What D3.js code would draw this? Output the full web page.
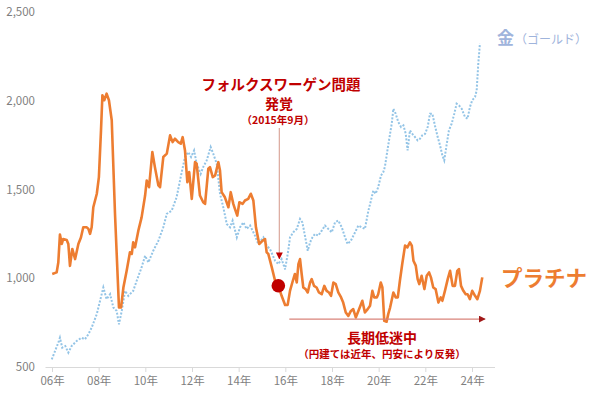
<!DOCTYPE html>
<html><head><meta charset="utf-8">
<script src="https://cdn.jsdelivr.net/npm/d3@7"></script>
<style>
html,body{margin:0;padding:0;background:#fff;}
svg{display:block;font-family:"Noto Sans CJK JP","Noto Sans",sans-serif;}
</style></head>
<body><svg id="c" width="600" height="397"></svg>
<script>
// ---- data ----
const yTicks = [500, 1000, 1500, 2000, 2500];
const xTicks = [2006, 2008, 2010, 2012, 2014, 2016, 2018, 2020, 2022, 2024];

const platYears = [2006.01,2006.20,2006.27,2006.34,2006.42,2006.48,2006.63,2006.70,2006.77,2006.87,2006.99,
2007.13,2007.24,2007.34,2007.49,2007.56,2007.63,2007.70,2007.77,2007.92,
2008.01,2008.10,2008.16,2008.24,2008.34,2008.44,2008.56,2008.70,2008.87,2008.96,
2009.06,2009.20,2009.34,2009.42,2009.48,2009.56,2009.70,2009.84,2009.99,
2010.06,2010.16,2010.30,2010.41,2010.56,2010.63,2010.77,2010.92,
2011.06,2011.17,2011.27,2011.41,2011.52,2011.60,2011.70,2011.80,2011.88,2011.99,
2012.13,2012.20,2012.34,2012.48,2012.56,2012.70,2012.77,2012.89,2012.99,
2013.13,2013.20,2013.27,2013.41,2013.56,2013.66,2013.77,2013.84,2013.94,
2014.03,2014.17,2014.27,2014.41,2014.52,2014.63,2014.74,2014.88,
2015.03,2015.13,2015.20,2015.27,2015.42,2015.56,2015.70,2015.84,2015.99,
2016.10,2016.20,2016.30,2016.41,2016.49,2016.56,2016.63,2016.70,2016.77,2016.87,2016.96,
2017.06,2017.13,2017.23,2017.34,2017.44,2017.56,2017.67,2017.77,2017.87,2017.96,
2018.06,2018.16,2018.27,2018.39,2018.48,2018.59,2018.70,2018.81,2018.91,
2019.02,2019.13,2019.30,2019.41,2019.53,2019.63,2019.73,2019.81,2019.92,2019.98,
2020.09,2020.16,2020.24,2020.34,2020.41,2020.49,2020.63,2020.73,2020.82,2020.91,
2021.01,2021.13,2021.23,2021.34,2021.42,2021.49,2021.59,2021.67,2021.74,2021.84,2021.96,
2022.06,2022.16,2022.24,2022.34,2022.44,2022.56,2022.66,2022.73,2022.84,2022.96,
2023.06,2023.17,2023.27,2023.37,2023.44,2023.53,2023.63,2023.73,2023.81,2023.91,
2024.01,2024.13,2024.23,2024.34,2024.44];
const platValues = [1024,1033,1089,1246,1193,1221,1216,1193,1070,1165,1108,
1193,1230,1287,1287,1278,1250,1287,1400,1476,
1570,1833,2031,2003,2040,2003,1890,1363,835,835,
948,1042,1146,1137,1202,1174,1268,1343,1466,
1551,1513,1711,1626,1523,1513,1683,1702,
1805,1767,1786,1767,1758,1795,1720,1541,1598,1447,
1654,1645,1466,1428,1419,1617,1626,1570,1579,
1654,1607,1485,1456,1400,1485,1419,1391,1353,
1428,1419,1438,1447,1476,1438,1287,1193,
1212,1221,1146,1137,1061,986,958,901,849,
850,929,976,1024,976,1080,1108,1024,948,939,920,
976,995,957,948,920,910,957,929,920,901,
976,967,920,892,863,807,788,816,826,
779,816,873,807,826,845,929,892,892,910,
976,948,760,755,798,835,920,892,892,986,
1080,1184,1174,1202,1184,1099,1071,995,967,1014,939,
1014,1033,1005,948,939,863,892,873,929,995,
1042,957,957,1042,1052,957,929,910,910,882,
929,901,882,929,1005];

const goldYears = [2005.99,2006.13,2006.27,2006.34,2006.44,2006.57,2006.70,2006.84,
2007.06,2007.27,2007.41,2007.56,2007.70,2007.92,
2008.06,2008.20,2008.34,2008.49,2008.63,2008.77,2008.87,2008.99,
2009.13,2009.27,2009.48,2009.63,2009.84,2009.99,
2010.13,2010.34,2010.56,2010.77,2010.92,
2011.13,2011.34,2011.56,2011.70,2011.84,2011.96,
2012.09,2012.20,2012.37,2012.48,2012.63,2012.80,2012.91,
2013.06,2013.20,2013.34,2013.49,2013.63,2013.74,2013.92,
2014.06,2014.20,2014.34,2014.49,2014.70,2014.84,
2015.06,2015.20,2015.34,2015.56,2015.70,2015.84,2015.99,
2016.13,2016.20,2016.34,2016.49,2016.63,2016.73,2016.84,2016.96,
2017.06,2017.16,2017.27,2017.41,2017.56,2017.70,2017.84,2017.99,
2018.13,2018.27,2018.42,2018.56,2018.67,2018.81,2018.99,
2019.13,2019.27,2019.41,2019.56,2019.67,2019.77,2019.87,2019.98,
2020.10,2020.20,2020.27,2020.41,2020.56,2020.63,2020.73,2020.84,2020.96,
2021.06,2021.16,2021.24,2021.34,2021.44,2021.56,2021.67,2021.77,2021.87,2021.99,
2022.10,2022.20,2022.30,2022.41,2022.53,2022.63,2022.73,2022.81,2022.92,
2023.01,2023.13,2023.24,2023.34,2023.44,2023.56,2023.70,2023.81,2023.91,
2024.01,2024.13,2024.20,2024.27,2024.34];
const goldValues = [543,590,637,665,609,618,581,618,
647,665,656,685,722,798,
873,948,882,910,835,816,741,816,
929,901,929,986,1061,1127,
1089,1155,1212,1287,1363,
1381,1456,1598,1683,1711,1683,
1720,1645,1588,1626,1664,1739,1702,
1645,1476,1400,1306,1287,1325,1230,
1287,1315,1278,1297,1240,1193,
1230,1184,1165,1099,1080,1108,1050,
1160,1230,1259,1278,1334,1315,1240,1155,
1202,1230,1250,1240,1268,1297,1278,1259,
1315,1325,1287,1230,1193,1212,1259,
1297,1287,1278,1381,1438,1494,1476,1513,
1579,1598,1630,1750,1871,1955,1927,1880,1852,
1861,1814,1720,1833,1814,1795,1777,1786,1805,1814,
1852,1927,1927,1861,1795,1749,1692,1664,1758,
1833,1871,1927,1983,1974,1955,1908,1899,1964,
2003,2021,2059,2210,2323];

// event marker and range annotation
const eventYear = 2015.70;       // VW scandal (Sept 2015)
const eventValue = 958;
const lowRangeStart = 2016.17;
const lowRangeEnd = 2024.56;
const lowRangeValue = 770;

// ---- drawing ----
const svg = d3.select("#c");
const x = d3.scaleLinear().domain([2006, 2024]).range([52, 472]);
const y = d3.scaleLinear().domain([500, 2500]).range([367, 12]);

const defs = svg.append("defs");
defs.append("marker").attr("id","arrR").attr("viewBox","0 0 10 10")
  .attr("refX",9).attr("refY",5).attr("markerWidth",7).attr("markerHeight",7)
  .attr("markerUnits","userSpaceOnUse").attr("orient","auto")
  .append("path").attr("d","M0,0L10,5L0,10Z").attr("fill","#a01818");
defs.append("marker").attr("id","arrD").attr("viewBox","0 0 10 10")
  .attr("refX",9).attr("refY",5).attr("markerWidth",7).attr("markerHeight",7)
  .attr("markerUnits","userSpaceOnUse").attr("orient","auto")
  .append("path").attr("d","M0,0L10,5L0,10Z").attr("fill","#c00000");

// y axis labels (no line)
const yAxis = d3.axisLeft(y).tickValues(yTicks).tickSize(0).tickPadding(0)
  .tickFormat(d3.format(","));
const gy = svg.append("g").attr("transform","translate(35,0)").call(yAxis);
gy.select(".domain").remove();
gy.selectAll("text").attr("fill","#7f7f7f").attr("font-size",11.5)
  .attr("font-family","'Noto Sans CJK JP',sans-serif");

// x axis
const xAxis = d3.axisBottom(x).tickValues(xTicks).tickSize(5).tickPadding(5)
  .tickFormat(d => String(d % 100).padStart(2,"0") + "年");
const gx = svg.append("g").attr("transform",`translate(0,${y(500)})`).call(xAxis);
gx.select(".domain").attr("d","M45.5,0.5H495").attr("stroke","#d9d9d9");
gx.selectAll(".tick line").attr("stroke","#d9d9d9");
gx.selectAll("text").attr("fill","#7f7f7f").attr("font-size",11.5)
  .attr("font-family","'Noto Sans CJK JP',sans-serif");

const line = d3.line().x(d => x(d[0])).y(d => y(d[1])).curve(d3.curveLinear);

// gold (dotted)
svg.append("path")
  .datum(d3.zip(goldYears, goldValues))
  .attr("d", line).attr("fill","none")
  .attr("stroke","#93c4e6").attr("stroke-width",2)
  .attr("stroke-dasharray","2,1.6");

// platinum
svg.append("path")
  .datum(d3.zip(platYears, platValues))
  .attr("d", line).attr("fill","none")
  .attr("stroke","#ed7d31").attr("stroke-width",2.6)
  .attr("stroke-linejoin","round");

// event vertical line with arrow
svg.append("line")
  .attr("x1", x(eventYear)+1).attr("x2", x(eventYear)+1)
  .attr("y1", 128).attr("y2", y(1110))
  .attr("stroke","#dba89c").attr("stroke-width",1.2)
  .attr("marker-end","url(#arrD)");

// event dot
svg.append("circle")
  .attr("cx", x(eventYear)).attr("cy", y(eventValue)).attr("r", 6.8)
  .attr("fill","#c00000");

// low range arrow
svg.append("line")
  .attr("x1", x(lowRangeStart)).attr("x2", x(lowRangeEnd))
  .attr("y1", y(lowRangeValue)).attr("y2", y(lowRangeValue))
  .attr("stroke","#d9837a").attr("stroke-width",1.2)
  .attr("marker-end","url(#arrR)");

// annotations
const red = "#c00000";
const cx = 281;
svg.append("text").attr("x", cx).attr("y", 90).attr("text-anchor","middle")
  .attr("fill", red).attr("font-size",14.5).attr("font-weight","bold")
  .text("フォルクスワーゲン問題");
svg.append("text").attr("x", cx - 2).attr("y", 109).attr("text-anchor","middle")
  .attr("fill", red).attr("font-size",14).attr("font-weight","bold")
  .text("発覚");
svg.append("text").attr("x", cx - 3).attr("y", 124).attr("text-anchor","middle")
  .attr("fill", red).attr("font-size",10.5).attr("font-weight","bold")
  .text("（2015年9月）");

const lx = 382;
svg.append("text").attr("x", lx).attr("y", 343).attr("text-anchor","middle")
  .attr("fill", red).attr("font-size",14).attr("font-weight","bold")
  .text("長期低迷中");
svg.append("text").attr("x", lx).attr("y", 358).attr("text-anchor","middle")
  .attr("fill", red).attr("font-size",10.5).attr("font-weight","bold")
  .text("（円建ては近年、円安により反発）");

// series labels
const gl = svg.append("text").attr("x", 497).attr("y", 44).attr("fill","#9fb4dc");
gl.append("tspan").attr("font-size",17).attr("font-weight","bold").text("金");
gl.append("tspan").attr("font-size",12).attr("dx",1).text("（ゴールド）");

svg.append("text").attr("x", 501).attr("y", 286).attr("fill","#ed7d31")
  .attr("font-size",21.5).attr("font-weight","bold").text("プラチナ");
</script>
</body></html>
